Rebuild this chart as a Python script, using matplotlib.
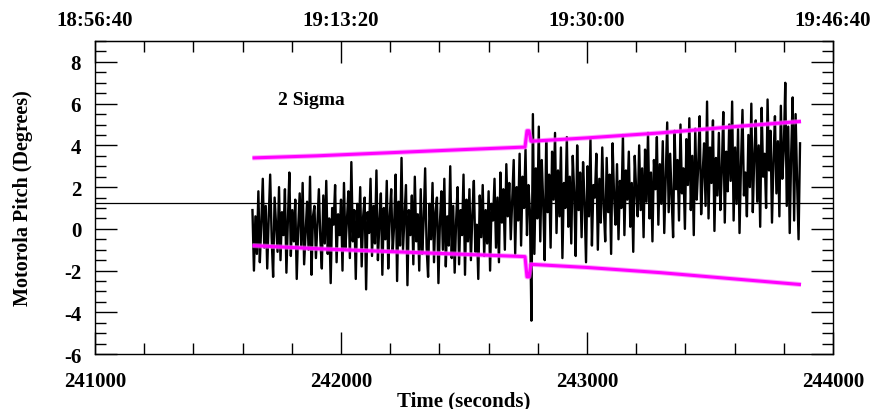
import matplotlib.pyplot as plt
import numpy as np
from matplotlib.ticker import MultipleLocator

plt.rcParams['font.family'] = ['Liberation Serif', 'DejaVu Serif']
plt.rcParams['font.weight'] = 'bold'
plt.rcParams['axes.unicode_minus'] = False

# pitch samples, 6 s apart, starting at t0
t0 = 241640
dt = 6
pitch = [
    0.9, -2.0, 0.6, -1.2, 1.8, -1.6, 0.3, 2.4, -0.9, 1.1, -1.9, 0.5,
    2.6, -0.4, -2.3, 1.5, 0.2, -1.1, 2.0, -1.5, 0.8, -0.3, 1.9, -2.1,
    0.4, 2.7, -1.3, 0.9, -0.6, 1.4, -2.4, 0.1, 1.7, -0.8, 2.2, -1.7,
    -0.2, 1.3, -1.0, 2.5, -2.2, 0.6, 1.1, -1.4, 0.3, 1.9, -0.5, -1.9,
    1.6, -0.7, 2.3, -1.2, 0.5, -2.6, 1.0, 0.2, 2.1, -1.6, 0.7, -0.3,
    1.4, -2.0, 2.2, -0.9, 0.4, 1.8, -1.4, 3.2, -0.6, 0.9, -2.4, 1.2,
    -0.4, 2.0, -1.8, 0.6, 1.5, -2.9, 0.8, -0.2, 2.4, -1.3, 1.1, -0.7,
    2.8, -1.5, 0.3, 1.7, -2.2, 1.0, -0.5, 2.3, -1.9, 0.6, 1.9, -1.1,
    0.2, 2.6, -2.5, 1.3, -0.8, 3.4, -1.0, 0.5, 2.1, -2.7, 0.9, -0.3,
    1.6, -1.7, 2.5, -0.6, 0.7, -2.0, 1.9, -1.2, 0.4, 2.9, -0.9, -2.3,
    1.2, -0.5, 2.2, -1.6, 0.8, 1.5, -2.6, 0.3, 1.8, -1.0, 2.4, -1.8,
    0.6, -0.8, 3.0, -1.4, 1.1, -2.1, 0.4, 2.0, -1.7, 0.9, -0.3, 2.6,
    -2.2, 1.4, -0.6, 1.9, -1.5, 0.7, 2.3, -1.1, 0.2, -2.4, 1.6, -0.4,
    2.1, -1.3, 0.9, -0.7, 1.8, -2.0, 1.2, 0.4, 2.4, -0.9, 1.5, -1.6,
    2.7, 0.3, 1.9, -1.0, 3.1, 0.6, 2.2, -0.5, 1.4, 3.3, -1.2, 2.0,
    0.4, 3.6, -0.8, 2.5, 1.0, 3.8, -0.3, 2.1, 0.8, -4.4, 5.5, -1.2,
    2.9, 0.5, 4.9, -0.6, 3.3, 1.2, -1.5, 4.2, 0.8, 2.6, -0.9, 3.7,
    1.4, 4.6, -0.2, 2.8, 0.6, 3.9, -1.4, 2.2, 1.0, 4.4, 0.1, 2.5,
    -0.7, 3.5, 1.7, -1.3, 4.0, 0.9, 2.7, -0.4, 3.2, 1.3, -1.6, 3.0,
    0.6, 4.3, -0.8, 2.1, 1.5, 3.6, -1.0, 2.4, 0.3, 3.9, 1.1, -0.6,
    3.4, 0.8, 2.6, -1.2, 4.1, 1.6, 0.2, 3.1, -0.5, 2.3, 1.0, 4.5,
    -0.3, 2.8, 1.4, 3.7, 0.1, 2.2, -1.1, 3.5, 1.8, 0.6, 4.0, 0.9,
    2.9, -0.4, 3.8, 1.3, 4.6, 0.5, 2.7, -0.6, 3.3, 1.9, 4.4, 0.2,
    3.1, 1.2, 4.2, -0.2, 2.5, 5.1, 0.8, 3.6, 1.5, -0.4, 4.7, 1.9,
    3.3, 0.4, 5.0, 1.7, 2.9, 0.0, 4.3, 2.1, 5.3, 0.9, 3.5, -0.3,
    4.8, 1.4, 3.0, 5.4, 0.7, 2.6, 4.1, 1.1, 6.1, 0.5, 3.9, 2.2,
    5.2, -0.1, 3.4, 1.6, 4.6, 0.9, 2.8, 5.6, 0.3, 3.7, 1.8, 5.0,
    2.3, 6.1, 0.4, 3.9, 1.2, 4.8, -0.2, 3.1, 5.7, 1.6, 2.7, 0.6,
    4.5, 2.0, 6.0, 0.8, 3.5, 5.2, 1.3, 4.0, 0.1, 5.8, 2.5, 3.6,
    1.0, 6.2, 2.8, 4.7, 0.3, 3.3, 5.4, 1.7, 4.2, 0.6, 5.9, 2.4,
    3.8, 7.0, 1.1, 4.9, -0.2, 3.6, 6.3, 0.4, 5.5, 2.3, -0.5, 4.1,
]
t = t0 + dt * np.arange(len(pitch))

# 2 sigma bounds
sig_t = [241640, 241900, 242200, 242500, 242748, 242756, 242764, 242772, 243000, 243300, 243600, 243870]
sig_hi = [3.4, 3.5, 3.65, 3.8, 3.92, 4.7, 4.7, 4.2, 4.36, 4.6, 4.9, 5.15]
sig_lo = [-0.8, -0.95, -1.09, -1.22, -1.33, -2.3, -2.3, -1.7, -1.85, -2.1, -2.4, -2.67]

mean_level = 1.25

top_times = ['18:56:40', '19:13:20', '19:30:00', '19:46:40']
top_secs = [241000, 242000, 243000, 244000]

fig = plt.figure(figsize=(8.75, 4.1), dpi=100)
ax = fig.add_axes([0.1086, 0.134, 0.8434, 0.7634])

ax.plot(t, pitch, color='black', lw=1.7)
for s in (sig_hi, sig_lo):
    ax.plot(sig_t, s, color='#ff66ff', lw=3.6, alpha=0.6, solid_capstyle='butt')
    ax.plot(sig_t, s, color='#ff00ff', lw=2.2, solid_capstyle='butt')
ax.axhline(mean_level, color='black', lw=0.9)

ax.text(241745, 6.2, '2 Sigma', fontsize=14, fontweight='bold', va='center', ha='left')

ax.set_xlim(241000, 244000)
ax.set_ylim(-6, 9)
ax.xaxis.set_major_locator(MultipleLocator(1000))
ax.xaxis.set_minor_locator(MultipleLocator(200))
ax.yaxis.set_major_locator(MultipleLocator(2))
ax.yaxis.set_minor_locator(MultipleLocator(0.5))
ax.tick_params(which='both', direction='in', top=True, right=True, width=1.0)
ax.tick_params(which='major', length=16, labelsize=15)
ax.tick_params(which='minor', length=8)
ax.tick_params(axis='x', which='major', pad=12)
ax.tick_params(axis='y', which='major', pad=10)
for sp in ax.spines.values():
    sp.set_linewidth(1.0)

ax.set_xlabel('Time (seconds)', fontsize=15, fontweight='bold', labelpad=0)
ax.set_ylabel('Motorola Pitch (Degrees)', fontsize=14.5, fontweight='bold', labelpad=22)

top = ax.secondary_xaxis('top')
top.set_xticks(top_secs)
top.set_xticklabels(top_times)
top.tick_params(length=0, labelsize=15, pad=8)

fig.savefig('out.png', dpi=100)
